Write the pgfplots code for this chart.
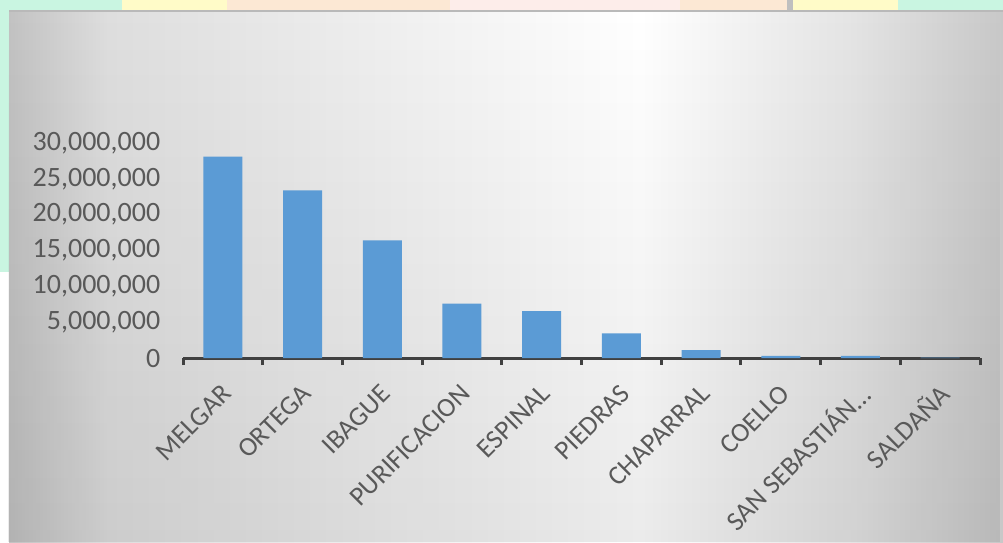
\documentclass[border=0pt]{standalone}
\usepackage{fontspec}
\setmainfont{Carlito}
\usepackage{pgfplots}
\pgfplotsset{compat=1.18}
\usetikzlibrary{fadings}
\definecolor{mint}{HTML}{C9F5E1}
\definecolor{yel}{HTML}{FFFBC8}
\definecolor{peach}{HTML}{FCE8D4}
\definecolor{pinkish}{HTML}{FDEDEA}
\definecolor{barblue}{HTML}{5B9BD5}
\definecolor{lblgray}{HTML}{595959}
\definecolor{axgray}{HTML}{404040}
\definecolor{ga}{HTML}{C2C2C2}
\definecolor{gb}{HTML}{DEDEDE}
\definecolor{gc}{HTML}{E4E4E4}
\definecolor{gd}{HTML}{C8C8C8}
\pgfdeclarehorizontalshading{panelh}{100bp}{color(0bp)=(ga); color(25bp)=(ga); color(30bp)=(gb); color(56.75bp)=(white); color(67.5bp)=(gc); color(75bp)=(gd); color(100bp)=(gd)}
\begin{document}
\begin{tikzpicture}[x=1pt,y=1pt]
\useasboundingbox (0,0) rectangle (1003,-542);
\fill[mint] (0,0) rectangle (1003,-272);
\fill[white] (0,-272) rectangle (9,-542);
\fill[yel] (122,0) rectangle (227,-10);
\fill[peach] (227,0) rectangle (450,-10);
\fill[pinkish] (450,0) rectangle (680,-10);
\fill[peach] (680,0) rectangle (787,-10);
\fill[gray!50] (787,0) rectangle (793,-10);
\fill[yel] (793,0) rectangle (898,-10);
\shade[shading=panelh] (9,-10) rectangle (1003,-542);
\fill[black, opacity=0.08, path fading=north] (9,-10) rectangle (1003,-542);
\draw[gray!55, line width=2pt] (9,-11) -- (1003,-11);
\coordinate (AX) at (183,-358);
\begin{axis}[
  at={(AX)}, anchor=south west,
  scale only axis, width=797pt, height=215pt,
  xmin=-0.5, xmax=9.5, ymin=0, ymax=30000000,
  axis lines*=left,
  axis line style={-},
  y axis line style={draw=none},
  x axis line style={line width=3pt, draw=axgray},
  ybar, bar width=39pt,
  xtick={0,1,2,3,4,5,6,7,8,9},
  xticklabels={MELGAR,ORTEGA,IBAGUE,PURIFICACION,ESPINAL,PIEDRAS,CHAPARRAL,COELLO,SAN SEBASTIÁN…,SALDAÑA},
  minor xtick={-0.5,0.5,1.5,2.5,3.5,4.5,5.5,6.5,7.5,8.5,9.5},
  major x tick style={draw=none},
  minor x tick style={line width=3pt, draw=axgray},
  minor tick length=7pt,
  tick align=outside,
  ytick={0,5000000,10000000,15000000,20000000,25000000,30000000},
  ytick style={draw=none},
  scaled y ticks=false,
  /pgf/number format/.cd, fixed, precision=0, 1000 sep={,}, assume math mode=true,
  /pgfplots/.cd,
  ticklabel style={font=\fontsize{28}{32}\selectfont, text=lblgray},
  yticklabel style={anchor=east, xshift=-15pt},
  xticklabel style={font=\fontsize{27}{31}\selectfont, inner sep=0pt, xshift=4pt, yshift=-27pt, rotate=45, anchor=east},
  clip=false,
]
\addplot[fill=barblue, draw=none] coordinates {
(0,28100000) (1,23400000) (2,16400000) (3,7600000) (4,6550000)
(5,3450000) (6,1100000) (7,300000) (8,300000) (9,50000)};
\end{axis}
\end{tikzpicture}
\end{document}
